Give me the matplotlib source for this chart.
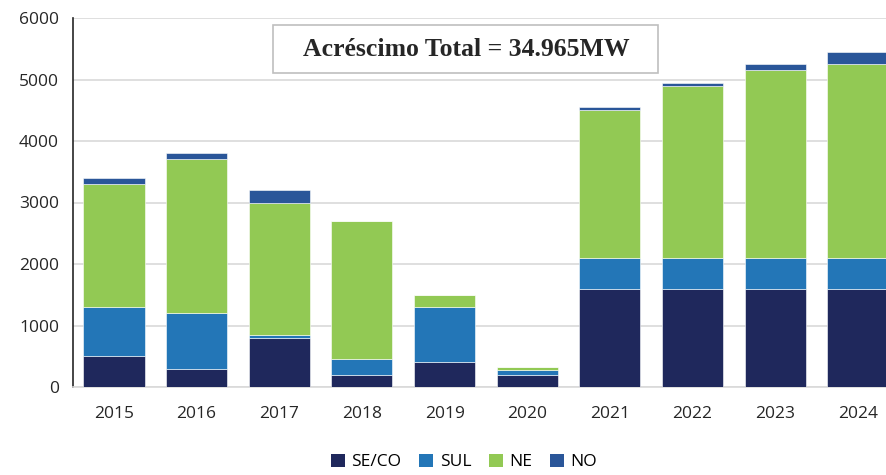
import numpy as np
import matplotlib.pyplot as plt
from matplotlib.patches import Patch, Rectangle

# data (MW per region and year)
years = ['2015', '2016', '2017', '2018', '2019', '2020', '2021', '2022', '2023', '2024']
se_co = [500, 300, 800, 200, 400, 200, 1600, 1600, 1600, 1600]
sul = [800, 900, 50, 250, 900, 80, 500, 500, 500, 500]
ne = [2000, 2500, 2150, 2250, 200, 50, 2400, 2800, 3050, 3150]
no = [100, 100, 200, 0, 0, 0, 50, 50, 100, 200]
series = [('SE/CO', se_co, '#1F285C'),
          ('SUL', sul, '#2376B7'),
          ('NE', ne, '#92C954'),
          ('NO', no, '#2A5699')]
title_box = 'Acréscimo Total = 34.965MW'

plt.rcParams['font.family'] = ['Open Sans', 'DejaVu Sans']

fig = plt.figure(figsize=(8.86, 4.75), dpi=100)
ax = fig.add_axes([73/886, 1-387/475, 1-73/886, (387-18)/475])

x = np.arange(len(years))
bottom = np.zeros(len(years))
for name, vals, color in series:
    vals = np.array(vals, dtype=float)
    ax.bar(x, vals, width=0.74, bottom=bottom, color=color, label=name,
           edgecolor='white', linewidth=0.4, zorder=3)
    bottom += vals

ax.set_xlim(-0.495, 9.34)
ax.set_ylim(0, 6000)
ax.set_yticks(range(0, 6001, 1000))
ax.set_xticks(x)
ax.set_xticklabels(years)
ax.tick_params(axis='both', length=0, labelsize=12.5, colors='#262626')
ax.tick_params(axis='x', pad=14)
ax.tick_params(axis='y', pad=10)
ax.grid(axis='y', color='#D9D9D9', linewidth=1.2, zorder=0)
for s in ['top', 'right']:
    ax.spines[s].set_visible(False)
ax.spines['left'].set_color('#262626')
ax.spines['left'].set_linewidth(1.2)
ax.spines['bottom'].set_color('#D9D9D9')
ax.spines['bottom'].set_linewidth(1.2)

# boxed total label
fig.add_artist(Rectangle((273/886, 1-73/475), 385/886, 48/475, transform=fig.transFigure,
                         facecolor='white', edgecolor='#BFBFBF', linewidth=1.2, zorder=5))
fig.text(466/886, 1-50/475, title_box, ha='center', va='center', zorder=6,
         fontsize=18.5, fontweight='bold', family='Liberation Serif', color='#262626')

handles = [Patch(facecolor=c, label=n) for n, _, c in series]
fig.legend(handles=handles, loc='center', bbox_to_anchor=(464/886, 1-462/475), ncol=4,
           frameon=False, fontsize=12.5, handlelength=0.8, handleheight=0.8,
           handletextpad=0.4, columnspacing=1.0)

plt.savefig('out.png', dpi=100)
